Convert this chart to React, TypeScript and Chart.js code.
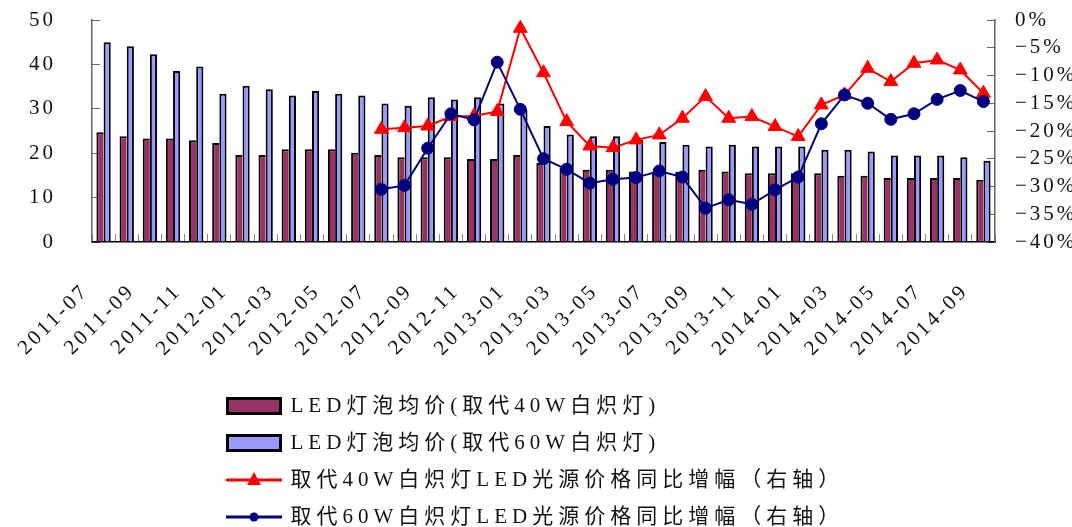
import React, { useEffect, useRef } from 'react';
import { Chart, registerables } from 'chart.js';

Chart.register(...registerables);

const months = [
  '2011-07', '2011-08', '2011-09', '2011-10', '2011-11', '2011-12',
  '2012-01', '2012-02', '2012-03', '2012-04', '2012-05', '2012-06',
  '2012-07', '2012-08', '2012-09', '2012-10', '2012-11', '2012-12',
  '2013-01', '2013-02', '2013-03', '2013-04', '2013-05', '2013-06',
  '2013-07', '2013-08', '2013-09', '2013-10', '2013-11', '2013-12',
  '2014-01', '2014-02', '2014-03', '2014-04', '2014-05', '2014-06',
  '2014-07', '2014-08', '2014-09',
];

const price40W = [
  24.7, 23.8, 23.3, 23.3, 22.9, 22.3, 19.6, 19.6, 20.9, 20.9, 20.9, 20.1,
  19.6, 19.1, 19.1, 19.1, 18.7, 18.7, 19.6, 17.8, 16.7, 16.3, 16.3, 15.9,
  15.5, 15.8, 16.3, 15.9, 15.5, 15.5, 15.5, 15.5, 14.9, 14.9, 14.4, 14.4,
  14.4, 14.4, 14.0,
];

const price60W = [
  45.0, 44.1, 42.3, 38.5, 39.5, 33.4, 35.2, 34.4, 33.0, 34.0, 33.4, 33.0,
  31.2, 30.7, 32.6, 32.1, 32.6, 31.2, 29.8, 26.1, 24.2, 23.8, 23.8, 23.0,
  22.5, 21.9, 21.5, 21.9, 21.5, 21.5, 21.5, 20.8, 20.8, 20.4, 19.5, 19.5,
  19.5, 19.1, 18.3,
];

const yoy40W = [
  null, null, null, null, null, null, null, null, null, null, null, null,
  -19.7, -19.4, -19.1, -17.4, -17.3, -16.5, -1.5, -9.5, -18.3, -22.7, -23.0, -21.6,
  -20.7, -17.7, -13.8, -17.7, -17.4, -19.2, -21.0, -15.3, -13.5, -8.7, -11.1, -7.8,
  -7.2, -9.0, -13.2,
];

const yoy60W = [
  null, null, null, null, null, null, null, null, null, null, null, null,
  -30.5, -29.8, -23.1, -16.9, -18.0, -7.6, -16.1, -25.0, -26.9, -29.4, -28.7, -28.4,
  -27.2, -28.3, -33.9, -32.4, -33.2, -30.6, -28.3, -18.7, -13.5, -15.0, -17.9, -16.9,
  -14.3, -12.7, -14.7,
];

const seriesLabels = [
  'LED灯泡均价(取代40W白炽灯)',
  'LED灯泡均价(取代60W白炽灯)',
  '取代40W白炽灯LED光源价格同比增幅（右轴）',
  '取代60W白炽灯LED光源价格同比增幅（右轴）',
];

const COLOR_40 = '#993366';
const COLOR_60 = '#9999FF';
const COLOR_RED = '#FF0000';
const COLOR_NAVY = '#000080';

const TICK_FONT = { family: '"Liberation Serif", "Times New Roman", serif', size: 21 };
const LEGEND_FONT = { family: '"Liberation Serif", "Noto Sans CJK SC", serif', size: 21 };

function makeSwatch(kind: string, fill: string) {
  const c = document.createElement('canvas');
  c.width = 56;
  c.height = 22;
  const g = c.getContext('2d') as CanvasRenderingContext2D;
  if (kind === 'bar') {
    g.fillStyle = fill;
    g.fillRect(2, 4, 52, 14);
    g.lineWidth = 3;
    g.strokeStyle = '#000';
    g.strokeRect(1.5, 3.5, 53, 15);
  } else {
    g.strokeStyle = fill;
    g.lineWidth = 3;
    g.beginPath();
    g.moveTo(0, 11);
    g.lineTo(56, 11);
    g.stroke();
    g.fillStyle = fill;
    g.beginPath();
    if (kind === 'tri') {
      g.moveTo(28, 3);
      g.lineTo(35, 16);
      g.lineTo(21, 16);
      g.closePath();
    } else {
      g.arc(28, 11, 4.5, 0, Math.PI * 2);
    }
    g.fill();
  }
  return c;
}

const spacingPlugin = {
  id: 'letterSpacingAndLegend',
  beforeUpdate(chart: any) { chart.ctx.letterSpacing = '3px'; },
  beforeLayout(chart: any) { chart.ctx.letterSpacing = '3px'; },
  beforeDraw(chart: any) { chart.ctx.letterSpacing = '3px'; },
  afterLayout(chart: any) {
    const lg = chart.legend;
    if (!lg) return;
    lg.left = 212;
    lg.right = 1072;
    lg.top = 379.5;
    lg.bottom = 640;
    lg.width = lg.right - lg.left;
    lg.height = lg.bottom - lg.top;
    if (!lg.__patched) {
      const orig = lg.draw;
      lg.draw = function (...args: any[]) {
        const c = this.ctx;
        const prev = c.letterSpacing;
        c.letterSpacing = '5px';
        orig.apply(this, args);
        c.letterSpacing = prev;
      };
      lg.__patched = true;
    }
  },
};

const noPad = (s: any) => {
  s.paddingTop = 0;
  s.paddingBottom = 0;
  s.paddingLeft = 0;
  s.paddingRight = 0;
};

export default function App() {
  const ref = useRef<HTMLCanvasElement | null>(null);

  useEffect(() => {
    document.body.style.margin = '0';
    const canvas = ref.current;
    if (!canvas) return;
    const swatches = [
      makeSwatch('bar', COLOR_40),
      makeSwatch('bar', COLOR_60),
      makeSwatch('tri', COLOR_RED),
      makeSwatch('dot', COLOR_NAVY),
    ];

    const chart = new Chart(canvas, {
      type: 'bar',
      data: {
        labels: months,
        datasets: [
          {
            type: 'bar',
            label: seriesLabels[0],
            data: price40W,
            yAxisID: 'y',
            backgroundColor: COLOR_40,
            borderColor: '#000',
            borderWidth: { left: 2, top: 2, right: 0, bottom: 0 },
            categoryPercentage: 0.62,
            barPercentage: 1,
            order: 2,
          },
          {
            type: 'bar',
            label: seriesLabels[1],
            data: price60W,
            yAxisID: 'y',
            backgroundColor: COLOR_60,
            borderColor: '#000',
            borderWidth: { left: 2, top: 2, right: 2, bottom: 0 },
            categoryPercentage: 0.62,
            barPercentage: 1,
            order: 2,
          },
          {
            type: 'line',
            label: seriesLabels[2],
            data: yoy40W,
            yAxisID: 'y1',
            borderColor: COLOR_RED,
            backgroundColor: COLOR_RED,
            borderWidth: 2,
            pointStyle: 'triangle',
            pointRadius: 8,
            pointBackgroundColor: COLOR_RED,
            pointBorderColor: COLOR_RED,
            pointBorderWidth: 1,
            tension: 0,
            order: 1,
          },
          {
            type: 'line',
            label: seriesLabels[3],
            data: yoy60W,
            yAxisID: 'y1',
            borderColor: COLOR_NAVY,
            backgroundColor: COLOR_NAVY,
            borderWidth: 2,
            pointStyle: 'circle',
            pointRadius: 6,
            pointBackgroundColor: COLOR_NAVY,
            pointBorderColor: COLOR_NAVY,
            pointBorderWidth: 1,
            tension: 0,
            order: 0,
          },
        ] as any,
      },
      options: {
        animation: false,
        responsive: true,
        maintainAspectRatio: false,
        layout: { padding: { top: 20, left: 0, right: 0, bottom: 155 } },
        scales: {
          x: {
            type: 'category',
            offset: true,
            grid: {
              display: true,
              offset: true,
              drawOnChartArea: false,
              drawTicks: true,
              tickLength: -8,
              color: '#8a8a8a',
              tickColor: '#8a8a8a',
            },
            border: { display: true, color: '#000', width: 1.5 },
            ticks: {
              autoSkip: false,
              minRotation: 45,
              maxRotation: 45,
              padding: 45,
              labelOffset: -18,
              color: '#111',
              font: TICK_FONT,
              callback: (_v: any, i: number) => (i % 2 === 0 ? months[i] : ''),
            },
            afterFit: (s: any) => { s.height = 130; noPad(s); },
          },
          y: {
            type: 'linear',
            position: 'left',
            min: 0,
            max: 50,
            grid: {
              drawOnChartArea: false,
              drawTicks: true,
              tickLength: -8,
              color: '#666',
              tickColor: '#666',
            },
            border: { display: true, color: '#666', width: 1.5 },
            ticks: { stepSize: 10, autoSkip: false, padding: 44, color: '#111', font: TICK_FONT },
            afterFit: (s: any) => { s.width = 92; noPad(s); },
          },
          y1: {
            type: 'linear',
            position: 'right',
            min: -40,
            max: 0,
            grid: {
              drawOnChartArea: false,
              drawTicks: true,
              tickLength: -8,
              color: '#666',
              tickColor: '#666',
            },
            border: { display: true, color: '#666', width: 1.5 },
            ticks: {
              stepSize: 5,
              autoSkip: false,
              padding: 28,
              color: '#111',
              font: TICK_FONT,
              callback: (v: any) => (v < 0 ? '\u2212' + (-v) : String(v)) + '%',
            },
            afterFit: (s: any) => { s.width = 77; noPad(s); },
          },
        },
        plugins: {
          tooltip: { enabled: false },
          legend: {
            display: true,
            position: 'chartArea',
            align: 'start',
            labels: {
              usePointStyle: true,
              pointStyleWidth: 52,
              padding: 16,
              color: '#111',
              font: LEGEND_FONT,
              sort: (a: any, b: any) => a.datasetIndex - b.datasetIndex,
              generateLabels: (ch: any) => {
                const base = (Chart.defaults.plugins.legend.labels as any).generateLabels(ch);
                return base.map((it: any) => ({ ...it, pointStyle: swatches[it.datasetIndex], rotation: 0 }));
              },
            },
          },
        },
      } as any,
      plugins: [spacingPlugin as any],
    });

    return () => { chart.destroy(); };
  }, []);

  return (
    <div style={{ position: 'absolute', left: 0, top: 0, width: 1072, height: 527, background: '#fff' }}>
      <canvas ref={ref} />
    </div>
  );
}
